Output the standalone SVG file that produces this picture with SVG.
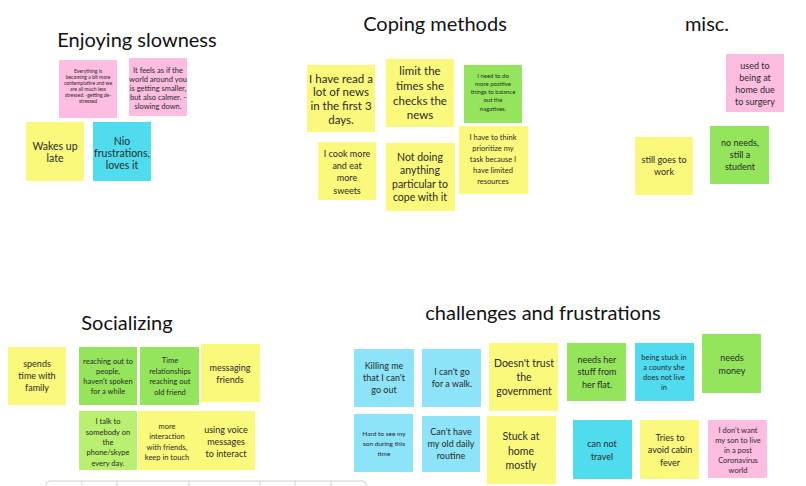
<svg xmlns="http://www.w3.org/2000/svg" width="806" height="486" viewBox="0 0 806 486">
<style>
text{font-family:Lato,"Noto Sans",sans-serif;fill:#2a2a2a;text-anchor:middle}
.t{font-size:20px;fill:#111}
.y{fill:#fbf97c}.p{fill:#fdbde0}.c{fill:#4fdcef}.lb{fill:#8de3f7}.g{fill:#95e55c}.lg{fill:#b9f06f}
.s{font-size:5px}.m{font-size:7.5px}.n{font-size:9px}.l{font-size:10.5px}.xl{font-size:11.5px}
</style>
<rect width="806" height="486" fill="#fff"/>
<g id="titles">
<text class="t" x="137" y="47">Enjoying slowness</text>
<text class="t" x="435" y="31">Coping methods</text>
<text class="t" x="707" y="31">misc.</text>
<text class="t" x="127" y="330">Socializing</text>
<text class="t" x="543" y="320">challenges and frustrations</text>
</g>
<g id="n1"><rect class="p" x="59" y="60" width="58" height="58"/><text class="s"><tspan x="88" y="73">Everything is</tspan><tspan x="88" y="79">becoming a bit more</tspan><tspan x="88" y="85">contemplative and we</tspan><tspan x="88" y="91">are all much less</tspan><tspan x="88" y="97">stressed. -getting de-</tspan><tspan x="88" y="103">stressed</tspan></text></g>
<g id="n2"><rect class="p" x="129" y="58" width="58" height="58"/><text class="m"><tspan x="158" y="73">It feels as if the</tspan><tspan x="158" y="82">world around you</tspan><tspan x="158" y="91">is getting smaller,</tspan><tspan x="158" y="100">but also calmer. -</tspan><tspan x="158" y="109">slowing down.</tspan></text></g>
<g id="n3"><rect class="y" x="26" y="122" width="58" height="59"/><text class="l"><tspan x="55" y="150">Wakes up</tspan><tspan x="55" y="162">late</tspan></text></g>
<g id="n4"><rect class="c" x="93" y="122" width="58" height="59"/><text class="l"><tspan x="122" y="145">Nio</tspan><tspan x="122" y="157">frustrations,</tspan><tspan x="122" y="169">loves it</tspan></text></g>

<g id="n5"><rect class="y" x="307" y="65" width="68" height="67"/><text class="xl"><tspan x="341" y="83">I have read a</tspan><tspan x="341" y="96">lot of news</tspan><tspan x="341" y="110">in the first 3</tspan><tspan x="341" y="124">days.</tspan></text></g>
<g id="n6"><rect class="y" x="386" y="59" width="68" height="68"/><text class="xl"><tspan x="420" y="75">limit the</tspan><tspan x="420" y="90">times she</tspan><tspan x="420" y="105">checks the</tspan><tspan x="420" y="119">news</tspan></text></g>
<g id="n7"><rect class="g" x="464" y="65" width="58" height="58"/><text class="s" style="font-size:6px"><tspan x="493" y="78">I need to do</tspan><tspan x="493" y="86">more positive</tspan><tspan x="493" y="94">things to balance</tspan><tspan x="493" y="102">out the</tspan><tspan x="493" y="111">nagatives.</tspan></text></g>
<g id="n8"><rect class="y" x="318" y="142" width="58" height="58"/><text class="n"><tspan x="347" y="157">I cook more</tspan><tspan x="347" y="169">and eat</tspan><tspan x="347" y="181">more</tspan><tspan x="347" y="194">sweets</tspan></text></g>
<g id="n9"><rect class="y" x="386" y="143" width="69" height="68"/><text class="l"><tspan x="420" y="161">Not doing</tspan><tspan x="420" y="174">anything</tspan><tspan x="420" y="188">particular to</tspan><tspan x="420" y="201">cope with it</tspan></text></g>
<g id="n10"><rect class="y" x="459" y="126" width="69" height="68"/><text class="m"><tspan x="493" y="140">I have to think</tspan><tspan x="493" y="151">prioritize my</tspan><tspan x="493" y="162">task because I</tspan><tspan x="493" y="173">have limited</tspan><tspan x="493" y="184">resources</tspan></text></g>

<g id="n11"><rect class="p" x="726" y="54" width="58" height="58"/><text class="n"><tspan x="755" y="69">used to</tspan><tspan x="755" y="81">being at</tspan><tspan x="755" y="93">home due</tspan><tspan x="755" y="105">to surgery</tspan></text></g>
<g id="n12"><rect class="g" x="710" y="126" width="59" height="58"/><text class="n"><tspan x="740" y="146">no needs,</tspan><tspan x="740" y="158">still a</tspan><tspan x="740" y="170">student</tspan></text></g>
<g id="n13"><rect class="y" x="635" y="137" width="58" height="58"/><text class="n"><tspan x="664" y="163">still goes to</tspan><tspan x="664" y="175">work</tspan></text></g>

<g id="n14"><rect class="y" x="8" y="347" width="58" height="58"/><text class="n"><tspan x="37" y="367">spends</tspan><tspan x="37" y="379">time with</tspan><tspan x="37" y="391">family</tspan></text></g>
<g id="n15"><rect class="g" x="79" y="347" width="58" height="58"/><text class="m"><tspan x="108" y="364">reaching out to</tspan><tspan x="108" y="374">people,</tspan><tspan x="108" y="384">haven't spoken</tspan><tspan x="108" y="394">for a while</tspan></text></g>
<g id="n16"><rect class="g" x="140" y="347" width="59" height="58"/><text class="m"><tspan x="170" y="363">Time</tspan><tspan x="170" y="374">relationships</tspan><tspan x="170" y="384">reaching out</tspan><tspan x="170" y="395">old friend</tspan></text></g>
<g id="n17"><rect class="y" x="201" y="344" width="59" height="58"/><text class="n"><tspan x="230" y="371">messaging</tspan><tspan x="230" y="383">friends</tspan></text></g>
<g id="n18"><rect class="lg" x="79" y="411" width="58" height="59"/><text class="m"><tspan x="108" y="424">I talk to</tspan><tspan x="108" y="435">somebody on</tspan><tspan x="108" y="445">the</tspan><tspan x="108" y="455">phone/skype</tspan><tspan x="108" y="466">every day.</tspan></text></g>
<g id="n19"><rect class="y" x="138" y="411" width="58" height="59"/><text class="m"><tspan x="167" y="429">more</tspan><tspan x="167" y="439">interaction</tspan><tspan x="167" y="450">with friends,</tspan><tspan x="167" y="460">keep in touch</tspan></text></g>
<g id="n20"><rect class="y" x="196" y="411" width="59" height="59"/><text class="n"><tspan x="226" y="433">using voice</tspan><tspan x="226" y="445">messages</tspan><tspan x="226" y="457">to interact</tspan></text></g>

<g id="n21"><rect class="lb" x="354" y="349" width="60" height="58"/><text class="n"><tspan x="384" y="369">Killing me</tspan><tspan x="384" y="381">that I can't</tspan><tspan x="384" y="393">go out</tspan></text></g>
<g id="n22"><rect class="lb" x="422" y="349" width="59" height="58"/><text class="n"><tspan x="452" y="375">I can't go</tspan><tspan x="452" y="387">for a walk.</tspan></text></g>
<g id="n23"><rect class="y" x="489" y="343" width="69" height="68"/><text class="l"><tspan x="524" y="367">Doesn't trust</tspan><tspan x="524" y="381">the</tspan><tspan x="524" y="395">government</tspan></text></g>
<g id="n24"><rect class="g" x="567" y="343" width="59" height="58"/><text class="n"><tspan x="597" y="363">needs her</tspan><tspan x="597" y="375">stuff from</tspan><tspan x="597" y="388">her flat.</tspan></text></g>
<g id="n25"><rect class="c" x="635" y="343" width="59" height="58"/><text class="m"><tspan x="664" y="360">being stuck in</tspan><tspan x="664" y="370">a county she</tspan><tspan x="664" y="380">does not live</tspan><tspan x="664" y="390">in</tspan></text></g>
<g id="n26"><rect class="g" x="702" y="334" width="59" height="59"/><text class="n"><tspan x="732" y="361">needs</tspan><tspan x="732" y="374">money</tspan></text></g>
<g id="n27"><rect class="lb" x="354" y="414" width="59" height="58"/><text class="s" style="font-size:6.5px"><tspan x="384" y="436">Hard to see my</tspan><tspan x="384" y="446">son during this</tspan><tspan x="384" y="456">time</tspan></text></g>
<g id="n28"><rect class="lb" x="422" y="416" width="58" height="56"/><text class="n"><tspan x="451" y="435">Can't have</tspan><tspan x="451" y="447">my old daily</tspan><tspan x="451" y="459">routine</tspan></text></g>
<g id="n29"><rect class="y" x="487" y="416" width="69" height="68"/><text class="l"><tspan x="521" y="440">Stuck at</tspan><tspan x="521" y="455">home</tspan><tspan x="521" y="469">mostly</tspan></text></g>
<g id="n30"><rect class="c" x="573" y="420" width="59" height="59"/><text class="n"><tspan x="602" y="447">can not</tspan><tspan x="602" y="460">travel</tspan></text></g>
<g id="n31"><rect class="y" x="640" y="420" width="59" height="59"/><text class="n"><tspan x="670" y="441">Tries to</tspan><tspan x="670" y="453">avoid cabin</tspan><tspan x="670" y="466">fever</tspan></text></g>
<g id="n32"><rect class="p" x="708" y="420" width="59" height="58"/><text class="m"><tspan x="738" y="433">I don't want</tspan><tspan x="738" y="443">my son to live</tspan><tspan x="738" y="453">in a post</tspan><tspan x="738" y="463">Coronavirus</tspan><tspan x="738" y="473">world</tspan></text></g>

<g id="toolbar" fill="none" stroke="#d0d0d0" stroke-width="1">
<rect x="46" y="481" width="320" height="14" rx="4" fill="#fff"/>
<path d="M82 481v6M117 481v6M189 481v6M260 481v6M295 481v6M331 481v6"/>
</g>
<g id="connectors"></g>
</svg>
